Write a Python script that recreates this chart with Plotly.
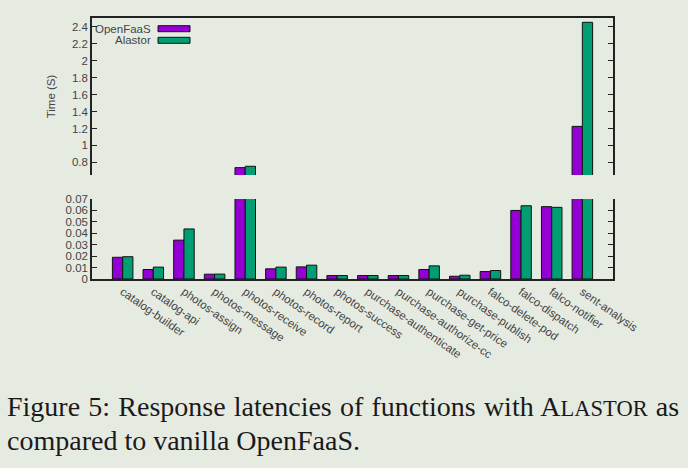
import plotly.graph_objects as go

categories = ["catalog-builder", "catalog-api", "photos-assign", "photos-message",
              "photos-receive", "photos-record", "photos-report", "photos-success",
              "purchase-authenticate", "purchase-authorize-cc", "purchase-get-price",
              "purchase-publish", "falco-delete-pod", "falco-dispatch", "falco-notifier",
              "sent-analysis"]
openfaas = [0.019, 0.0083, 0.034, 0.0042, 0.737, 0.0089, 0.0106, 0.003,
            0.003, 0.003, 0.0083, 0.0024, 0.0065, 0.060, 0.0633, 1.225]
alastor = [0.0195, 0.0104, 0.0438, 0.0043, 0.753, 0.0104, 0.0121, 0.003,
           0.003, 0.003, 0.0115, 0.0033, 0.0074, 0.0641, 0.0627, 2.455]
series_names = ["OpenFaaS", "Alastor"]
colors = ["#9400D3", "#009E73"]
low_ticks = [0, 0.01, 0.02, 0.03, 0.04, 0.05, 0.06, 0.07]
high_ticks = [0.8, 1.0, 1.2, 1.4, 1.6, 1.8, 2.0, 2.2, 2.4]

BG = "#e6ebe2"
W, H = 688, 468
L, R, T, B = 92, 613, 18, 279  # plot area pixel box

def px(xpix):
    return (xpix - L) / (R - L)

def py(ypix):
    return (B - ypix) / (B - T)

fig = go.Figure()
for name, vals, col in zip(series_names, [openfaas, alastor], colors):
    for xa, ya in (("x", "y"), ("x2", "y2")):
        fig.add_trace(go.Bar(x=categories, y=vals, name=name, xaxis=xa, yaxis=ya,
                             marker=dict(color=col, line=dict(color="#111111", width=1)),
                             showlegend=False, hoverinfo="skip"))

axis_line = dict(showline=True, linecolor="#222222", linewidth=1.5, automargin=False)
tickfont = dict(family="Liberation Sans, Arial, sans-serif", size=11.5, color="#444444")

fig.update_layout(
    width=W, height=H,
    paper_bgcolor=BG, plot_bgcolor=BG,
    margin=dict(l=L, r=W - R, t=T, b=H - B, autoexpand=False),
    barmode="group", bargap=0.33, bargroupgap=0,
    showlegend=False,
    xaxis=dict(type="category", range=[-1, 16], anchor="y", ticks="",
               tickangle=35, tickfont=tickfont, showgrid=False, **axis_line),
    xaxis2=dict(type="category", range=[-1, 16], anchor="y2", side="top", matches="x",
                ticks="", showticklabels=False, showgrid=False, **axis_line),
    yaxis=dict(domain=[0, py(199)], range=[0, 0.07], tickvals=low_ticks,
               ticktext=["0", "0.01", "0.02", "0.03", "0.04", "0.05", "0.06", "0.07"],
               ticks="inside", ticklen=5, tickcolor="#222222", mirror="ticks",
               tickfont=tickfont, showgrid=False, zeroline=False, anchor="x", **axis_line),
    yaxis2=dict(domain=[py(175), 1], range=[0.65, 2.506], tickvals=high_ticks,
                ticktext=["0.8", "1", "1.2", "1.4", "1.6", "1.8", "2", "2.2", "2.4"],
                ticks="inside", ticklen=5, tickcolor="#222222", mirror="ticks",
                tickfont=tickfont, showgrid=False, zeroline=False, anchor="x2",
                title=dict(text="Time (S)", font=tickfont, standoff=14), **axis_line),
)

# legend (top-left of upper panel): text right-aligned, swatch to the right
legend_rows = [(28.7, 0), (40.3, 1)]
for yc, i in legend_rows:
    fig.add_shape(type="rect", xref="paper", yref="paper",
                  x0=px(158), x1=px(190), y0=py(yc - 3), y1=py(yc + 3),
                  fillcolor=colors[i], line=dict(color="#111111", width=1))
    fig.add_annotation(xref="paper", yref="paper", x=px(153), y=py(yc),
                       xanchor="right", yanchor="middle", showarrow=False,
                       text=series_names[i], font=tickfont)

cap_font = dict(family="Liberation Serif, Times New Roman, serif", size=28, color="#1a1a1a")
fig.add_annotation(xref="paper", yref="paper", x=px(5), y=py(424), xanchor="left",
                   yanchor="bottom", showarrow=False, font=cap_font,
                   text="<span style='word-spacing:1.2px'>Figure 5: Response latencies of functions with "
                        "A<span style='font-size:22.5px'>LASTOR</span> as</span>")
fig.add_annotation(xref="paper", yref="paper", x=px(5), y=py(458), xanchor="left",
                   yanchor="bottom", showarrow=False, font=cap_font,
                   text="compared to vanilla OpenFaaS.")

fig.write_html("out.html", config={"displayModeBar": False},
               post_script="document.body.style.margin='0';document.body.style.background='%s';" % BG)
